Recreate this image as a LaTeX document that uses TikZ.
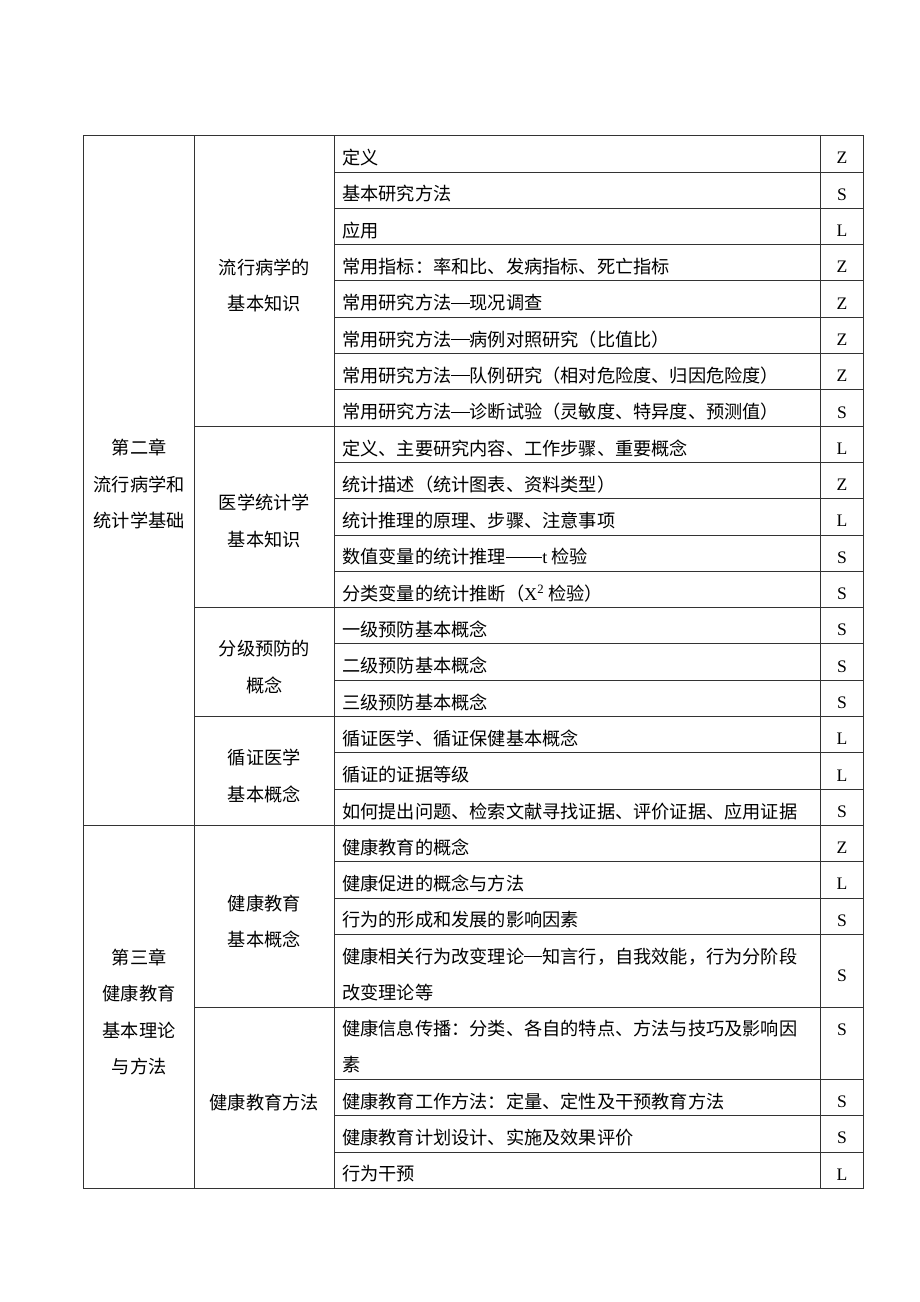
\documentclass[tikz,border=0pt]{standalone}
\usepackage{fontspec}
\setmainfont{Liberation Serif}
\newfontfamily\cjk{Noto Sans CJK SC}
\usetikzlibrary{positioning}
\tikzset{
    rule/.style = {line width=0.9pt,draw=black!80},
    item/.style = {anchor=west,inner sep=0pt,align=left,font=\cjk\fontsize{18.2}{36.3}\selectfont},
    grade/.style = {inner sep=0pt,font=\fontsize{17.6}{36.3}\selectfont},
    group/.style = {inner sep=0pt,align=center,font=\cjk\fontsize{18.2}{36.3}\selectfont},
}
\newcommand{\latn}[1]{{\rmfamily #1}}
\newcommand{\cdash}{\rule[0.34em]{1em}{0.055em}}
\begin{document}
\begin{tikzpicture}[x=1pt,y=-1pt]
\useasboundingbox[fill=white] (0,0) rectangle (920,1302);
% frame and columns
\draw[rule] (83.5,135.7) rectangle (863.3,1188);
\foreach \x in {194.7,334,820.7}
  \draw[rule] (\x,135.7) -- (\x,1188);
\draw[rule] (83.5,825.4) -- (863.3,825.4);
\foreach \y in {426.1,607.6,716.5,1007.7}
  \draw[rule] (194.7,\y) -- (863.3,\y);
\foreach \y in {172.0,208.3,244.6,280.9,317.2,353.5,389.8,462.4,498.7,535.0,571.3,643.9,680.2,752.8,789.1,861.7,898.0,934.3,1079,1115.5,1152}
  \draw[rule] (334,\y) -- (863.3,\y);
%
\node[group] (ch2) at (139.1,484) {第二章\\流行病学和\\统计学基础};
\node[group] (ch3) at (139.1,1012) {第三章\\健康教育\\基本理论\\与方法};
\node[group] (epi) at (264.3,285.5) {流行病学的\\基本知识};
\node[group] (stat) at (264.3,521) {医学统计学\\基本知识};
\node[group] (prev) at (264.3,667) {分级预防的\\概念};
\node[group] (ebm) at (264.3,776) {循证医学\\基本概念};
\node[group] (edu) at (264.3,921.5) {健康教育\\基本概念};
\node[group] (meth) at (264.3,1103) {健康教育方法};
%
\foreach \k/\txt/\g in {
  0/定义/Z, 1/基本研究方法/S, 2/应用/L,
  3/常用指标：率和比、发病指标、死亡指标/Z,
  4/常用研究方法\cdash 现况调查/Z,
  5/常用研究方法\cdash 病例对照研究（比值比）/Z,
  6/常用研究方法\cdash 队例研究（相对危险度、归因危险度）/Z,
  7/常用研究方法\cdash 诊断试验（灵敏度、特异度、预测值）/S,
  8/定义、主要研究内容、工作步骤、重要概念/L,
  9/统计描述（统计图表、资料类型）/Z,
  10/统计推理的原理、步骤、注意事项/L,
  11/数值变量的统计推理\cdash\cdash\latn{t} 检验/S,
  12/分类变量的统计推断（\latn{X\textsuperscript{2}} 检验）/S,
  13/一级预防基本概念/S, 14/二级预防基本概念/S, 15/三级预防基本概念/S,
  16/循证医学、循证保健基本概念/L, 17/循证的证据等级/L,
  18/如何提出问题、检索文献寻找证据、评价证据、应用证据/S,
  19/健康教育的概念/Z, 20/健康促进的概念与方法/L,
  21/行为的形成和发展的影响因素/S}
{
  \node[item] (t\k) at (342,{135.7+36.3*\k+22}) {\txt};
  \node[grade] (g\k) at (842,{135.7+36.3*\k+22.5}) {\g};
}
%
\node[item] (t22) at (342,974.5) {健康相关行为改变理论\cdash 知言行，自我效能，行为分阶段\\改变理论等};
\node[grade] (g22) at (842,975.5) {S};
\node[item] (t23) at (342,1046.5) {健康信息传播：分类、各自的特点、方法与技巧及影响因\\素};
\node[grade] (g23) at (842,1030) {S};
\node[item] (t24) at (342,1101.2) {健康教育工作方法：定量、定性及干预教育方法};
\node[grade] (g24) at (842,1101.7) {S};
\node[item] (t25) at (342,1137.7) {健康教育计划设计、实施及效果评价};
\node[grade] (g25) at (842,1138.2) {S};
\node[item] (t26) at (342,1174) {行为干预};
\node[grade] (g26) at (842,1174.5) {L};
\end{tikzpicture}
\end{document}
